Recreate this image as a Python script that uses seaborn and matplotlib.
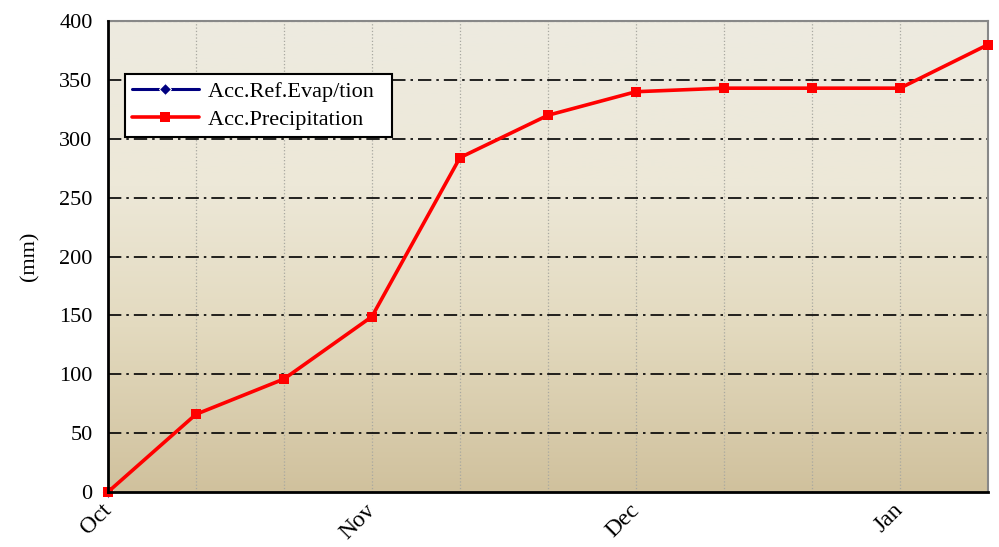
import matplotlib
matplotlib.use("Agg")
import matplotlib.pyplot as plt
import numpy as np
import pandas as pd
import seaborn as sns
from matplotlib.colors import LinearSegmentedColormap

# dekad index (every 10 days from 1 Oct)
dekads = list(range(11))
acc_precip = [0, 66, 96, 149, 284, 320, 340, 343, 343, 343, 380]
# the evap series only shows its first point, hidden under the red one
evap_dekads = [0]
acc_evap = [0]
month_ticks = [0, 3, 6, 9]
month_labels = ["Oct", "Nov", "Dec", "Jan"]

sns.set_style("white")
plt.rcParams["font.family"] = ["Liberation Serif", "DejaVu Serif"]
plt.rcParams.update({"text.color": "black", "axes.labelcolor": "black",
                     "xtick.color": "black", "ytick.color": "black"})

df_p = pd.DataFrame({"dekad": dekads, "mm": acc_precip})
df_e = pd.DataFrame({"dekad": evap_dekads, "mm": acc_evap})

fig = plt.figure(figsize=(9.99, 5.47), dpi=100)
ax = fig.add_axes([0.108, 0.1005, 0.881, 0.861])

# background gradient, light at top, tan at bottom
bg = LinearSegmentedColormap.from_list(
    "bg", [(0.0, "#d0c19d"), (0.35, "#e3dabf"), (0.65, "#ede8d8"), (1.0, "#edebe0")]
)
grad = np.linspace(0, 1, 256).reshape(-1, 1)
ax.imshow(grad, aspect="auto", cmap=bg, origin="lower",
          extent=[0, 10, 0, 400], zorder=0)

sns.lineplot(data=df_e, x="dekad", y="mm", ax=ax, color="#000080", marker="D",
             markersize=6, linewidth=2.2, label="Acc.Ref.Evap/tion", zorder=3,
             clip_on=False)
sns.lineplot(data=df_p, x="dekad", y="mm", ax=ax, color="#ff0000", marker="s",
             markersize=7, markeredgewidth=0, linewidth=2.6,
             label="Acc.Precipitation", zorder=4, clip_on=False)

ax.set_xlim(0, 10)
ax.set_ylim(0, 400)
ax.set_yticks(range(0, 401, 50))
ax.set_xticks(dekads)
ax.set_xticklabels([month_labels[month_ticks.index(d)] if d in month_ticks else ""
                    for d in dekads], rotation=45, ha="right", va="center",
                   rotation_mode="anchor")
ax.tick_params(axis="x", direction="in", length=5, width=1.5, labelsize=17, pad=11)
ax.tick_params(axis="y", direction="out", length=8, width=1.5, labelsize=16, pad=3)
ax.set_xlabel("")
ax.set_ylabel("(mm)", fontsize=16, labelpad=14)

# grids
for d in dekads[1:-1]:
    ax.axvline(d, color="#a8a8a0", linestyle=":", linewidth=0.9, zorder=1)
for v in range(50, 400, 50):
    ax.axhline(v, color="black", linestyle=(0, (8, 3, 1.5, 3)), linewidth=1.2, zorder=2)
ax.axhline(400, color="#999999", linestyle="--", linewidth=0.8, zorder=2)

for side in ["left", "bottom"]:
    ax.spines[side].set_color("black")
    ax.spines[side].set_linewidth(2)
    ax.spines[side].set_zorder(5)
for side in ["top", "right"]:
    ax.spines[side].set_color("#888888")
    ax.spines[side].set_linewidth(1.5)

leg = ax.legend(loc="upper left", bbox_to_anchor=(0.02, 0.887), fontsize=16,
                frameon=True, fancybox=False, edgecolor="black", framealpha=1,
                borderpad=0.3, handlelength=3.0, handletextpad=0.4,
                labelspacing=0.35, borderaxespad=0)
leg.get_frame().set_linewidth(1.5)
# pad the box out to the right, like the original
for txt in leg.get_texts():
    txt.set_text(txt.get_text() + "  ")

fig.savefig("out.png", dpi=100)
plt.close(fig)
